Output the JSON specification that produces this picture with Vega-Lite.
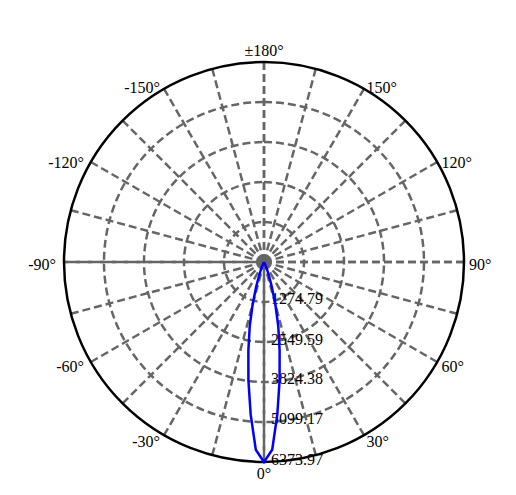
{
  "$schema": "https://vega.github.io/schema/vega-lite/v6.json",
  "width": 400,
  "height": 400,
  "autosize": "none",
  "padding": {"left": 64, "top": 62, "right": 52, "bottom": 33},
  "background": "white",
  "config": {
    "view": {"stroke": null},
    "text": {"font": "Liberation Serif", "fontSize": 16, "color": "black"}
  },
  "datasets": {
    "spokes": [
      {"a": -165}, {"a": -150}, {"a": -135}, {"a": -120}, {"a": -105}, {"a": -90},
      {"a": -75}, {"a": -60}, {"a": -45}, {"a": -30}, {"a": -15}, {"a": 0},
      {"a": 15}, {"a": 30}, {"a": 45}, {"a": 60}, {"a": 75}, {"a": 90},
      {"a": 105}, {"a": 120}, {"a": 135}, {"a": 150}, {"a": 165}, {"a": 180}
    ],
    "diameters": [{"a": 90}, {"a": 180}],
    "rings": [
      {"ring": 1274.79}, {"ring": 2549.59}, {"ring": 3824.38}, {"ring": 5099.17}, {"ring": 6373.97}
    ],
    "angleLabels": [
      {"a": 180, "label": "±180°"},
      {"a": 150, "label": "150°"},
      {"a": 120, "label": "120°"},
      {"a": 90, "label": "90°"},
      {"a": 60, "label": "60°"},
      {"a": 30, "label": "30°"},
      {"a": 0, "label": "0°"},
      {"a": -30, "label": "-30°"},
      {"a": -60, "label": "-60°"},
      {"a": -90, "label": "-90°"},
      {"a": -120, "label": "-120°"},
      {"a": -150, "label": "-150°"}
    ],
    "intensity": [
      {"a": -90, "cd": 0},
      {"a": -40, "cd": 0},
      {"a": -30, "cd": 32},
      {"a": -25, "cd": 96},
      {"a": -22.5, "cd": 223},
      {"a": -20, "cd": 446},
      {"a": -17.5, "cd": 829},
      {"a": -15, "cd": 1402},
      {"a": -12.5, "cd": 2103},
      {"a": -10, "cd": 2868},
      {"a": -7.5, "cd": 3805},
      {"a": -5, "cd": 4876},
      {"a": -2.5, "cd": 5990},
      {"a": 0, "cd": 6373.97},
      {"a": 2.5, "cd": 5990},
      {"a": 5, "cd": 4876},
      {"a": 7.5, "cd": 3805},
      {"a": 10, "cd": 2868},
      {"a": 12.5, "cd": 2103},
      {"a": 15, "cd": 1402},
      {"a": 17.5, "cd": 829},
      {"a": 20, "cd": 446},
      {"a": 22.5, "cd": 223},
      {"a": 25, "cd": 96},
      {"a": 30, "cd": 32},
      {"a": 40, "cd": 0},
      {"a": 90, "cd": 0}
    ]
  },
  "layer": [
    {
      "data": {"name": "rings"},
      "transform": [{"filter": "datum.ring < 6000"}],
      "mark": {"type": "arc", "theta": 0, "theta2": 6.2832, "filled": false, "stroke": "#666666", "strokeWidth": 2.5, "strokeDash": [8, 4]},
      "encoding": {
        "radius": {"field": "ring", "type": "quantitative", "stack": null, "scale": {"type": "linear", "domain": [0, 6373.97], "range": [0, 200], "zero": true, "nice": false}}
      }
    },
    {
      "data": {"name": "spokes"},
      "transform": [
        {"calculate": "0", "as": "cx"},
        {"calculate": "6373.97 * sin(datum.a * PI / 180)", "as": "ex"},
        {"calculate": "-6373.97 * cos(datum.a * PI / 180)", "as": "ey"}
      ],
      "mark": {"type": "rule", "color": "#666666", "strokeWidth": 2.5, "strokeDash": [8, 4]},
      "encoding": {
        "x": {"field": "cx", "type": "quantitative", "scale": {"domain": [-6373.97, 6373.97], "nice": false, "zero": false}, "axis": null},
        "y": {"field": "cx", "type": "quantitative", "scale": {"domain": [-6373.97, 6373.97], "nice": false, "zero": false}, "axis": null},
        "x2": {"field": "ex"},
        "y2": {"field": "ey"}
      }
    },
    {
      "data": {"name": "diameters"},
      "transform": [
        {"calculate": "6373.97 * sin(datum.a * PI / 180)", "as": "sx"},
        {"calculate": "-6373.97 * cos(datum.a * PI / 180)", "as": "sy"},
        {"calculate": "-datum.sx", "as": "ex"},
        {"calculate": "-datum.sy", "as": "ey"}
      ],
      "mark": {"type": "rule", "color": "#666666", "strokeWidth": 2.5, "strokeDash": [8, 4]},
      "encoding": {
        "x": {"field": "sx", "type": "quantitative"},
        "y": {"field": "sy", "type": "quantitative"},
        "x2": {"field": "ex"},
        "y2": {"field": "ey"}
      }
    },
    {
      "data": {"name": "rings"},
      "transform": [
        {"calculate": "0", "as": "cx"},
        {"calculate": "-datum.ring", "as": "ny"}
      ],
      "mark": {"type": "text", "align": "left", "baseline": "alphabetic", "dx": 7, "dy": 2.5},
      "encoding": {
        "x": {"field": "cx", "type": "quantitative"},
        "y": {"field": "ny", "type": "quantitative"},
        "text": {"field": "ring", "type": "quantitative", "format": ".2f"}
      }
    },
    {
      "data": {"name": "angleLabels"},
      "transform": [
        {"filter": "datum.a > 0 && datum.a < 180"},
        {"calculate": "6533 * sin(datum.a * PI / 180)", "as": "lx"},
        {"calculate": "-(6501 * cos(datum.a * PI / 180) + 96)", "as": "ly"}
      ],
      "mark": {"type": "text", "align": "left", "baseline": "middle"},
      "encoding": {
        "x": {"field": "lx", "type": "quantitative"},
        "y": {"field": "ly", "type": "quantitative"},
        "text": {"field": "label", "type": "nominal"}
      }
    },
    {
      "data": {"name": "angleLabels"},
      "transform": [
        {"filter": "datum.a < 0"},
        {"calculate": "6629 * sin(datum.a * PI / 180)", "as": "lx"},
        {"calculate": "-(6501 * cos(datum.a * PI / 180) + 96)", "as": "ly"}
      ],
      "mark": {"type": "text", "align": "right", "baseline": "middle"},
      "encoding": {
        "x": {"field": "lx", "type": "quantitative"},
        "y": {"field": "ly", "type": "quantitative"},
        "text": {"field": "label", "type": "nominal"}
      }
    },
    {
      "data": {"name": "angleLabels"},
      "transform": [
        {"filter": "datum.a == 0 || datum.a == 180"},
        {"calculate": "0", "as": "lx"},
        {"calculate": "-(6741 * cos(datum.a * PI / 180) + 25)", "as": "ly"}
      ],
      "mark": {"type": "text", "align": "center", "baseline": "middle"},
      "encoding": {
        "x": {"field": "lx", "type": "quantitative"},
        "y": {"field": "ly", "type": "quantitative"},
        "text": {"field": "label", "type": "nominal"}
      }
    },
    {
      "data": {"name": "rings"},
      "transform": [{"filter": "datum.ring > 6000"}],
      "mark": {"type": "arc", "theta": 0, "theta2": 6.2832, "filled": false, "stroke": "black", "strokeWidth": 2.5},
      "encoding": {
        "radius": {"field": "ring", "type": "quantitative", "stack": null, "scale": {"type": "linear", "domain": [0, 6373.97], "range": [0, 200], "zero": true, "nice": false}}
      }
    },
    {
      "data": {"name": "intensity"},
      "transform": [
        {"calculate": "datum.cd * sin(datum.a * PI / 180)", "as": "px"},
        {"calculate": "-datum.cd * cos(datum.a * PI / 180)", "as": "py"}
      ],
      "mark": {"type": "line", "color": "#0000ff", "strokeWidth": 2.5},
      "encoding": {
        "x": {"field": "px", "type": "quantitative"},
        "y": {"field": "py", "type": "quantitative"},
        "order": {"field": "a", "type": "quantitative"}
      }
    }
  ]
}
